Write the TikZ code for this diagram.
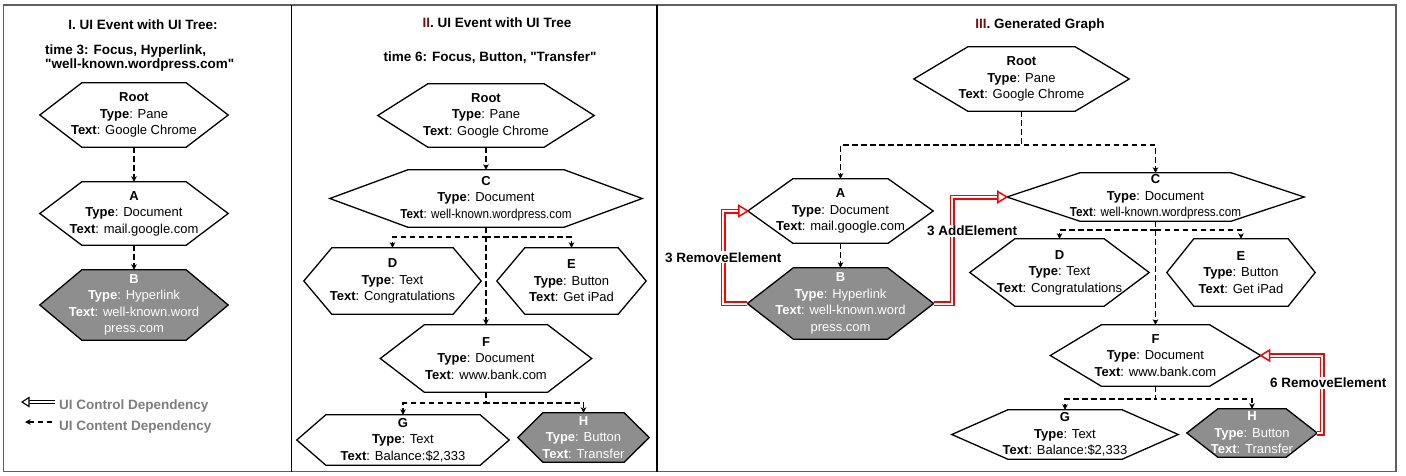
\documentclass[tikz,border=0pt]{standalone}
\usepackage{fontspec}
\setmainfont{Liberation Sans}[Ligatures=TeXOff]
\usepackage{graphicx}
\usetikzlibrary{arrows.meta,calc}
\pgfdeclarelayer{background}
\pgfsetlayers{background,main}
\definecolor{hexgray}{RGB}{142,142,142}
\definecolor{framegray}{RGB}{95,95,95}
\definecolor{legendgray}{RGB}{125,125,125}
\definecolor{numred}{RGB}{105,20,20}
\definecolor{ctrlred}{RGB}{255,0,0}
\newcommand\hexdraw[3]{\draw[#3] (#1.west) -- ([xshift=#2]#1.north west) -- ([xshift=-#2]#1.north east) -- (#1.east) -- ([xshift=-#2]#1.south east) -- ([xshift=#2]#1.south west) -- cycle;}
\newcommand\nf{\fontsize{13}{16.5}\selectfont}
\newcommand\tf{\fontsize{13.5}{15}\selectfont\bfseries}
\newcommand\cl[1]{\scalebox{0.9}[1]{#1}}
\begin{document}
\begin{tikzpicture}[x=1pt,y=-1pt,
 hexn/.style={rectangle, inner sep=0pt, align=center, font=\nf, text=black},
 hexg/.style={hexn, text=white},
 hexline/.style={draw=black, line width=1.3pt, fill=white, line join=miter},
 hexfill/.style={hexline, fill=hexgray},
 dep/.style={draw=black, line width=1.5pt, dash pattern=on 5.5pt off 3.5pt, -{Stealth[length=5.5pt,width=5.5pt,inset=1.5pt]}},
 ctrl/.style={draw=ctrlred, double=white, double distance=2pt, line width=1.5pt, line join=miter, shorten >=7pt},
 ctrltip/.style={draw=ctrlred, fill=white, line width=1.5pt, line join=miter},
 lgdctrl/.style={draw=black, double=white, double distance=2pt, line width=1.1pt, line join=miter, shorten >=6pt},
 lgdtip/.style={draw=black, fill=white, line width=1.1pt, line join=miter},
 ctrllabel/.style={fill=white, inner sep=1pt, font=\tf, text=black},
 ttl/.style={font=\tf, text=black, inner sep=0pt},
 lgd/.style={font=\tf, text=legendgray, anchor=west, inner sep=0pt}
]
\useasboundingbox (0,0) rectangle (1406,475);
\begin{pgfonlayer}{background}
\fill[white] (0,0) rectangle (1406,475);
\end{pgfonlayer}
% frames
\draw[framegray, line width=1.5pt] (3.5,5) rectangle (1396,471.5);
\draw[black, line width=1.5pt] (291.5,5) -- (291.5,471.5);
\draw[black, line width=1.5pt] (657,5) -- (657,471.5);

% ---------- Panel I ----------
\node[ttl] (t1) at (143,25) {I. UI Event with UI Tree:};
\node[ttl, anchor=west, align=left, font=\fontsize{13.5}{14}\selectfont\bfseries] (t1b) at (45,58.5) {time 3: Focus, Hyperlink,\\"well-known.wordpress.com"};
\node[hexn, minimum width=188, minimum height=64] (p1root) at (134,115) {\textbf{Root}\\\textbf{Type}: Pane\\\textbf{Text}: Google Chrome};
\node[hexn, minimum width=188, minimum height=63] (p1a) at (134,213.5) {\textbf{A}\\\textbf{Type}: Document\\\textbf{Text}: mail.google.com};
\node[hexg, minimum width=188, minimum height=70] (p1b) at (134,305) {\textbf{B}\\\textbf{Type}: Hyperlink\\\textbf{Text}: well-known.word\\press.com};
\begin{pgfonlayer}{background}
\hexdraw{p1root}{42}{hexline}
\hexdraw{p1a}{42}{hexline}
\hexdraw{p1b}{42}{hexfill}
\end{pgfonlayer}
\draw[dep] (p1root.south) -- (p1a.north);
\draw[dep] (p1a.south) -- (p1b.north);
% legend
\coordinate (lg1s) at (55,402);
\coordinate (lg1e) at (22,402);
\draw[lgdctrl] (lg1s) -- (lg1e);
\draw[lgdtip] (lg1e) -- ++(7,-4.5) -- ++(0,9) -- cycle;
\node[lgd] (lg1) at (59,406) {UI Control Dependency};
\coordinate (lg2s) at (52,422);
\coordinate (lg2e) at (25,422);
\draw[dep] (lg2s) -- (lg2e);
\node[lgd] (lg2) at (59,427) {UI Content Dependency};

% ---------- Panel II ----------
\node[ttl] (t2) at (497,23) {\textcolor{numred}{II}. UI Event with UI Tree};
\node[ttl] (t2b) at (490,58) {time 6: Focus, Button, "Transfer"};
\node[hexn, minimum width=216, minimum height=63] (p2root) at (486,115.5) {\textbf{Root}\\\textbf{Type}: Pane\\\textbf{Text}: Google Chrome};
\node[hexn, minimum width=312, minimum height=57] (p2c) at (486,198.5) {\textbf{C}\\\textbf{Type}: Document\\\cl{\textbf{Text}: well-known.wordpress.com}};
\node[hexn, minimum width=177, minimum height=66] (p2d) at (392.5,281) {\textbf{D}\\\textbf{Type}: Text\\\textbf{Text}: Congratulations};
\node[hexn, minimum width=149, minimum height=66] (p2e) at (571.5,281) {\textbf{E}\\\textbf{Type}: Button\\\textbf{Text}: Get iPad};
\node[hexn, minimum width=211, minimum height=67] (p2f) at (486,358.5) {\textbf{F}\\\textbf{Type}: Document\\\textbf{Text}: www.bank.com};
\node[hexn, minimum width=212, minimum height=50] (p2g) at (403,440) {\textbf{G}\\\textbf{Type}: Text\\\textbf{Text}: Balance:\$2,333};
\node[hexg, minimum width=131, minimum height=49] (p2h) at (583.5,437.5) {\textbf{H}\\\textbf{Type}: Button\\\textbf{Text}: Transfer};
\begin{pgfonlayer}{background}
\hexdraw{p2root}{50}{hexline}
\hexdraw{p2c}{78}{hexline}
\hexdraw{p2d}{28}{hexline}
\hexdraw{p2e}{28}{hexline}
\hexdraw{p2f}{44}{hexline}
\hexdraw{p2g}{29}{hexline}
\hexdraw{p2h}{25}{hexfill}
\end{pgfonlayer}
\draw[dep] (p2root.south) -- (p2c.north);
\draw[dep] (p2c.south) -- ++(0,10) -| (p2d.north);
\draw[dep] (p2c.south) -- ++(0,10) -| (p2e.north);
\draw[dep] (p2c.south) -- (p2f.north);
\draw[dep] (p2f.south) -- ++(0,11) -| (p2g.north);
\draw[dep] (p2f.south) -- ++(0,11) -| (p2h.north);

% ---------- Panel III ----------
\node[ttl] (t3) at (1040,25) {\textcolor{numred}{III}. Generated Graph};
\node[hexn, minimum width=215, minimum height=64] (p3root) at (1021.5,79) {\textbf{Root}\\\textbf{Type}: Pane\\\textbf{Text}: Google Chrome};
\node[hexn, minimum width=185, minimum height=64] (p3a) at (840.5,211) {\textbf{A}\\\textbf{Type}: Document\\\textbf{Text}: mail.google.com};
\node[hexg, minimum width=186, minimum height=71] (p3b) at (840.5,303.5) {\textbf{B}\\\textbf{Type}: Hyperlink\\\textbf{Text}: well-known.word\\press.com};
\node[hexn, minimum width=297, minimum height=48] (p3c) at (1155.5,197) {\textbf{C}\\\textbf{Type}: Document\\\cl{\textbf{Text}: well-known.wordpress.com}};
\node[hexn, minimum width=179, minimum height=67] (p3d) at (1059.5,272.5) {\textbf{D}\\\textbf{Type}: Text\\\textbf{Text}: Congratulations};
\node[hexn, minimum width=148, minimum height=67] (p3e) at (1241,272.5) {\textbf{E}\\\textbf{Type}: Button\\\textbf{Text}: Get iPad};
\node[hexn, minimum width=210, minimum height=61] (p3f) at (1155.5,355.5) {\textbf{F}\\\textbf{Type}: Document\\\textbf{Text}: www.bank.com};
\node[hexn, minimum width=226, minimum height=49] (p3g) at (1065,434.5) {\textbf{G}\\\textbf{Type}: Text\\\textbf{Text}: Balance:\$2,333};
\node[hexg, minimum width=130, minimum height=48] (p3h) at (1252,433) {\textbf{H}\\\textbf{Type}: Button\\\textbf{Text}: Transfer};
\begin{pgfonlayer}{background}
\hexdraw{p3root}{54}{hexline}
\hexdraw{p3a}{45}{hexline}
\hexdraw{p3b}{46}{hexfill}
\hexdraw{p3c}{73}{hexline}
\hexdraw{p3d}{45}{hexline}
\hexdraw{p3e}{27}{hexline}
\hexdraw{p3f}{51}{hexline}
\hexdraw{p3g}{56}{hexline}
\hexdraw{p3h}{31}{hexfill}
\end{pgfonlayer}
\draw[dep] (p3root.south) -- ++(0,34) -| (p3a.north);
\draw[dep] (p3root.south) -- ++(0,34) -| (p3c.north);
\draw[dep] (p3a.south) -- (p3b.north);
\draw[dep] (p3c.south) -- ++(0,9) -| (p3d.north);
\draw[dep] (p3c.south) -- ++(0,9) -| (p3e.north);
\draw[dep] (p3c.south) -- (p3f.north);
\draw[dep] (p3f.south) -- ++(0,13) -| (p3g.north);
\draw[dep] (p3f.south) -- ++(0,13) -| (p3h.north);
% control dependencies
\draw[ctrl] (p3b.west) -- ++(-24,0) |- node[pos=0.25, ctrllabel] (l1) {3 RemoveElement} (p3a.west);
\draw[ctrltip] (p3a.west) -- ++(-9,-5.5) -- ++(0,11) -- cycle;
\draw[ctrl] (p3b.east) -- ++(18.5,0) |- node[pos=0.34, ctrllabel, xshift=20] (l2) {3 AddElement} (p3c.west);
\draw[ctrltip] (p3c.west) -- ++(-9,-5.5) -- ++(0,11) -- cycle;
\draw[ctrl] (p3h.east) -- ++(5,0) |- node[pos=0.325, ctrllabel, xshift=6] (l3) {6 RemoveElement} (p3f.east);
\draw[ctrltip] (p3f.east) -- ++(9,-5.5) -- ++(0,11) -- cycle;
\end{tikzpicture}
\end{document}
